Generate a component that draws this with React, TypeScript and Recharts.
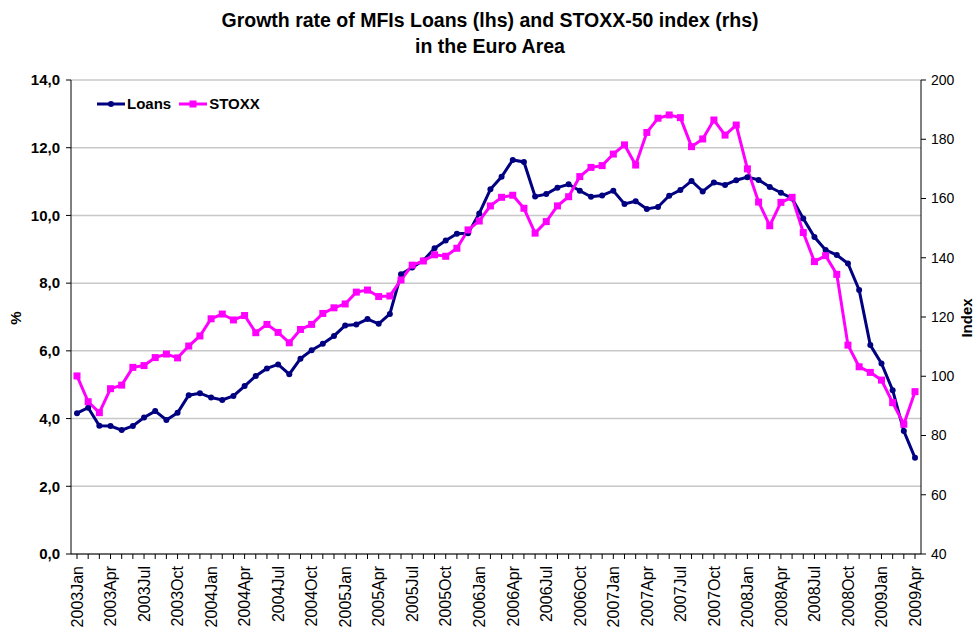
import React from "react";
import { LineChart, Line, XAxis, YAxis, CartesianGrid } from "recharts";

const years = ["2003", "2004", "2005", "2006", "2007", "2008", "2009"];
const monthNames = ["Jan", "Feb", "Mar", "Apr", "May", "Jun", "Jul", "Aug", "Sep", "Oct", "Nov", "Dec"];

// growth rate of MFI loans, % (left axis)
const loans = [
  4.16, 4.32, 3.79, 3.78, 3.66, 3.78, 4.03, 4.22, 3.96, 4.17,
  4.69, 4.75, 4.62, 4.55, 4.67, 4.96, 5.26, 5.48, 5.6, 5.31,
  5.77, 6.02, 6.21, 6.44, 6.75, 6.78, 6.94, 6.8, 7.09, 8.26,
  8.46, 8.67, 9.03, 9.26, 9.46, 9.47, 10.06, 10.77, 11.14, 11.64,
  11.58, 10.56, 10.63, 10.82, 10.92, 10.73, 10.55, 10.59, 10.73, 10.34,
  10.42, 10.19, 10.25, 10.58, 10.75, 11.02, 10.71, 10.97, 10.9, 11.04,
  11.13, 11.05, 10.84, 10.67, 10.5, 9.91, 9.36, 8.98, 8.83, 8.58,
  7.8, 6.17, 5.63, 4.84, 3.63, 2.84,
];

// STOXX-50 index (right axis)
const stoxx = [
  100.1, 91.4, 87.7, 95.8, 97.0, 103.0, 103.6, 106.3, 107.5, 106.2,
  110.2, 113.6, 119.4, 121.0, 119.0, 120.5, 114.7, 117.5, 114.8, 111.3,
  115.8, 117.5, 121.2, 123.1, 124.4, 128.4, 129.1, 126.9, 127.1, 132.5,
  137.5, 138.9, 141.0, 140.5, 143.2, 149.4, 152.4, 157.5, 160.4, 161.1,
  156.7, 148.3, 152.2, 157.5, 160.6, 167.4, 170.5, 171.1, 175.0, 178.1,
  171.3, 182.3, 187.1, 188.2, 187.3, 177.5, 180.1, 186.5, 181.4, 184.8,
  170.0, 158.8, 150.8, 158.7, 160.4, 148.5, 138.7, 140.7, 134.4, 110.5,
  103.2, 101.3, 98.7, 91.1, 83.8, 94.8,
];

const leftTicks = [0, 2, 4, 6, 8, 10, 12, 14];
const rightTicks = [40, 60, 80, 100, 120, 140, 160, 180, 200];

const months = years.flatMap((y) => monthNames.map((m) => y + m)).slice(0, loans.length);
const data = months.map((month, i) => ({ month, Loans: loans[i], STOXX: stoxx[i] }));

const FONT = "'Liberation Sans', Arial, sans-serif";
const NAVY = "#000080";
const MAGENTA = "#ff00ff";

const SquareDot = (props: any) => {
  const { cx, cy } = props;
  if (cx == null || cy == null) return null;
  return <rect x={cx - 3.5} y={cy - 3.5} width={7} height={7} fill={MAGENTA} />;
};

const MonthTick = (props: any) => {
  const { x, y, payload, index } = props;
  if (index % 3 !== 0) return null;
  return (
    <text
      x={x}
      y={y + 5}
      transform={`rotate(-90, ${x}, ${y + 5})`}
      textAnchor="end"
      dy="0.36em"
      fontSize={16}
      fontFamily={FONT}
      fill="#000"
    >
      {payload.value}
    </text>
  );
};

const LegendBox = () => (
  <div
    style={{
      position: "absolute",
      left: 97,
      top: 95,
      display: "flex",
      alignItems: "center",
      fontFamily: FONT,
      fontWeight: "bold",
      fontSize: 15,
      zIndex: 2,
    }}
  >
    <svg width={28} height={10}>
      <line x1={0} y1={5} x2={28} y2={5} stroke={NAVY} strokeWidth={3} />
      <circle cx={14} cy={5} r={3} fill={NAVY} />
    </svg>
    <span style={{ marginLeft: 2, marginRight: 8 }}>Loans</span>
    <svg width={28} height={10}>
      <line x1={0} y1={5} x2={28} y2={5} stroke={MAGENTA} strokeWidth={3} />
      <rect x={10.5} y={1.5} width={7} height={7} fill={MAGENTA} />
    </svg>
    <span style={{ marginLeft: 2 }}>STOXX</span>
  </div>
);

export default function App() {
  return (
    <div style={{ position: "absolute", left: 0, top: 0, width: 977, height: 637, background: "#fff" }}>
      <div
        style={{
          position: "absolute",
          left: 0,
          top: 7,
          width: 980,
          textAlign: "center",
          fontFamily: "'Liberation Sans Narrow', 'Liberation Sans', Arial, sans-serif",
          fontWeight: "bold",
          fontSize: 19.5,
          lineHeight: "26px",
        }}
      >
        Growth rate of MFIs Loans (lhs) and STOXX-50 index (rhs)
        <br />
        in the Euro Area
      </div>
      <div
        style={{
          position: "absolute",
          left: 15,
          top: 318,
          transform: "translate(-50%, -50%) rotate(-90deg)",
          fontFamily: FONT,
          fontWeight: "bold",
          fontSize: 15,
        }}
      >
        %
      </div>
      <div
        style={{
          position: "absolute",
          left: 966,
          top: 318,
          transform: "translate(-50%, -50%) rotate(-90deg)",
          fontFamily: FONT,
          fontWeight: "bold",
          fontSize: 15,
        }}
      >
        Index
      </div>
      <LegendBox />
      <LineChart width={977} height={637} data={data} margin={{ top: 80, right: 0, bottom: 0, left: 0 }}>
        <CartesianGrid yAxisId="left" vertical={false} stroke="#c8c8c8" strokeWidth={1.5} />
        <XAxis
          dataKey="month"
          interval={0}
          height={83}
          padding={{ left: 6, right: 6 }}
          tick={<MonthTick />}
          tickSize={5}
          axisLine={{ stroke: "#000" }}
          tickLine={{ stroke: "#000" }}
        />
        <YAxis
          yAxisId="left"
          width={71}
          domain={[0, 14]}
          ticks={leftTicks}
          tickFormatter={(v: number) => v.toFixed(1).replace(".", ",")}
          tick={{ fontSize: 15, fontWeight: "bold", fontFamily: FONT, fill: "#000" }}
          tickSize={5}
          tickMargin={6}
          axisLine={{ stroke: "#000" }}
          tickLine={{ stroke: "#000" }}
        />
        <YAxis
          yAxisId="right"
          orientation="right"
          width={56}
          domain={[40, 200]}
          ticks={rightTicks}
          tick={{ fontSize: 14, fontFamily: FONT, fill: "#000" }}
          tickSize={5}
          tickMargin={5}
          axisLine={{ stroke: "#000" }}
          tickLine={{ stroke: "#000" }}
        />
        <Line
          yAxisId="left"
          type="linear"
          dataKey="Loans"
          stroke={NAVY}
          strokeWidth={3}
          dot={{ r: 3, fill: NAVY, stroke: NAVY, strokeWidth: 0 }}
          activeDot={false}
          isAnimationActive={false}
        />
        <Line
          yAxisId="right"
          type="linear"
          dataKey="STOXX"
          stroke={MAGENTA}
          strokeWidth={3}
          dot={<SquareDot />}
          activeDot={false}
          isAnimationActive={false}
        />
      </LineChart>
    </div>
  );
}
